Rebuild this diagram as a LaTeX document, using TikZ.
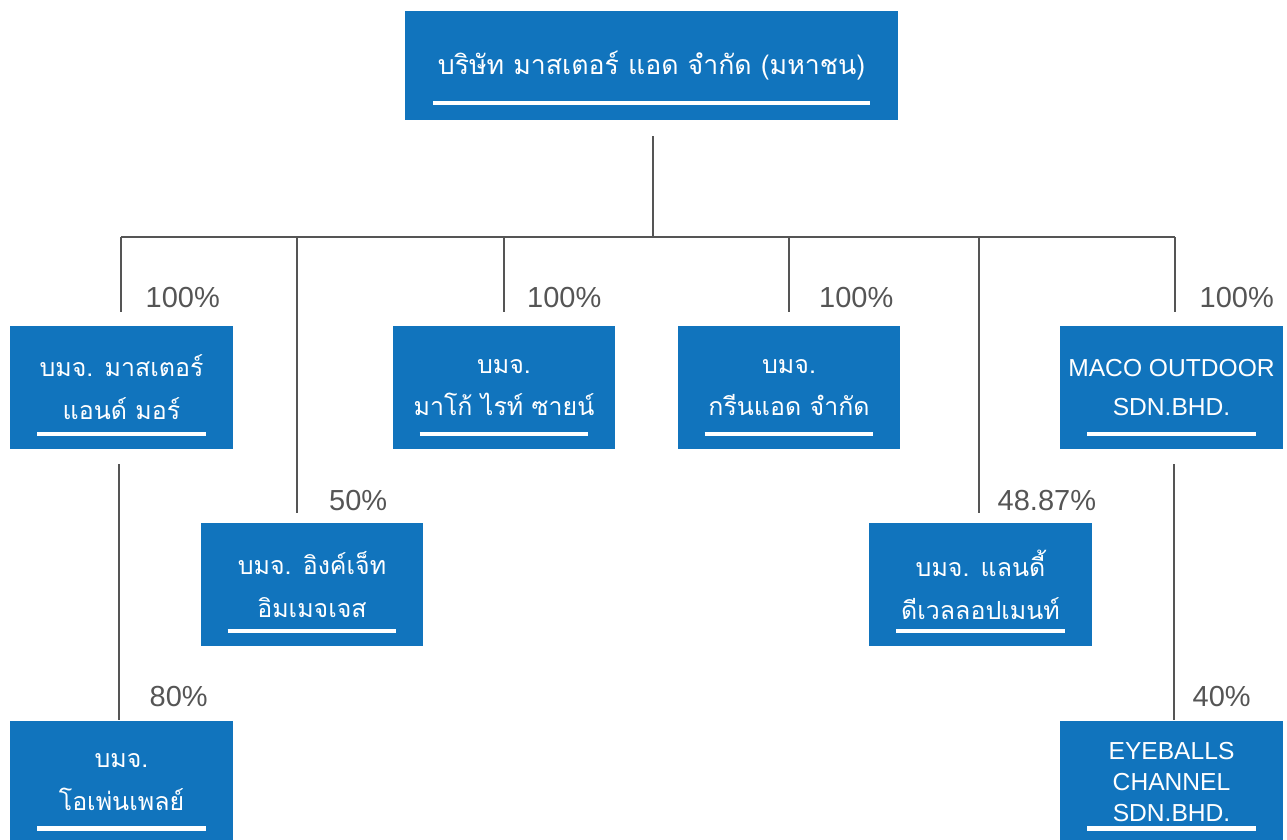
\documentclass[tikz,border=0pt]{standalone}
\usepackage{fontspec}
\setmainfont{Liberation Sans}
\newfontfamily\thaifont[Script=Thai]{Loma}
\usetikzlibrary{positioning,calc}
\definecolor{boxblue}{RGB}{17,116,189}
\definecolor{linegray}{RGB}{85,85,85}

\begin{document}
\begin{tikzpicture}
[ x=0.02cm, y=-0.02cm,
		company/.style={rectangle,fill=boxblue,text=white,align=center,inner sep=0pt,
			minimum width=4.46cm,minimum height=2.46cm,
			font=\thaifont\fontsize{14.2}{24.4}\selectfont,
			path picture={\draw[white,line width=2.8pt]
				([xshift=0.54cm,yshift=0.3cm]path picture bounding box.south west) --
				([xshift=-0.54cm,yshift=0.3cm]path picture bounding box.south east);}},
		foreign/.style={company,font=\fontsize{14}{22.7}\selectfont},
		parent/.style={company,minimum width=9.86cm,minimum height=2.18cm,
			font=\thaifont\fontsize{15.2}{20}\selectfont,
			path picture={\draw[white,line width=2.8pt]
				([xshift=0.56cm,yshift=0.34cm]path picture bounding box.south west) --
				([xshift=-0.56cm,yshift=0.34cm]path picture bounding box.south east);}},
		share/.style={anchor=west,text=linegray,font=\fontsize{16.5}{18}\selectfont},
		link/.style={draw=linegray,line width=1.6pt}]

	\useasboundingbox (0,0) rectangle (1287,839);

	\node[parent] (master) at (651.5,65.5) {บริษัท มาสเตอร์ แอด จำกัด (มหาชน)};
	\node[company] (masterandmore) at (121.5,387.5) {บมจ. มาสเตอร์\\แอนด์ มอร์};
	\node[company] (macolight) at (504,387.5) {บมจ.\\มาโก้ ไรท์ ซายน์};
	\node[company] (greenad) at (789,387.5) {บมจ.\\กรีนแอด จำกัด};
	\node[foreign] (macooutdoor) at (1171.5,387.5) {MACO OUTDOOR\\SDN.BHD.};
	\node[company] (inkjet) at (312,584.5) {บมจ. อิงค์เจ็ท\\อิมเมจเจส};
	\node[company] (landy) at (980.5,584.5) {บมจ. แลนดี้\\ดีเวลลอปเมนท์};
	\node[company] (openplay) at (121.5,782) {บมจ.\\โอเพ่นเพลย์};
	\node[foreign,font=\fontsize{14}{17.6}\selectfont] (eyeballs) at (1171.5,782) {EYEBALLS\\CHANNEL\\SDN.BHD.};

	% holding lines
	\coordinate (busL) at (121,237);
	\coordinate (busR) at (1175,237);
	\draw[link] ($(master.south)+(1.5,16)$) -- ($(master.south |- busL)+(1.5,0)$);
	\draw[link] (busL) -- (busR);
	\draw[link] (busL) -- ($(busL |- masterandmore.north)+(0,-14)$);
	\draw[link] ($(inkjet.north |- busL)+(-15,0)$) -- ($(inkjet.north)+(-15,-10)$);
	\draw[link] (macolight.north |- busL) -- ($(macolight.north)+(0,-14)$);
	\draw[link] (greenad.north |- busL) -- ($(greenad.north)+(0,-14)$);
	\draw[link] ($(landy.north |- busL)+(-1.5,0)$) -- ($(landy.north)+(-1.5,-10)$);
	\draw[link] (busR) -- ($(busR |- macooutdoor.north)+(0,-14)$);
	\draw[link] ($(masterandmore.south)+(-2.5,15)$) -- ($(openplay.north)+(-2.5,0)$);
	\draw[link] ($(macooutdoor.south)+(2.5,15)$) -- ($(eyeballs.north)+(2.5,0)$);

	% shares
	\node[share] (shareA) at ($(masterandmore.north)+(18,-28)$) {100\%};
	\node[share] (shareC) at ($(macolight.north)+(17,-28)$) {100\%};
	\node[share] (shareD) at ($(greenad.north)+(24,-28)$) {100\%};
	\node[share] (shareF) at ($(macooutdoor.north)+(22,-28)$) {100\%};
	\node[share] (shareB) at ($(inkjet.north)+(11,-22)$) {50\%};
	\node[share] (shareE) at ($(landy.north)+(11,-22)$) {48.87\%};
	\node[share] (shareG) at ($(openplay.north)+(22,-24)$) {80\%};
	\node[share] (shareH) at ($(eyeballs.north)+(15,-24)$) {40\%};
\end{tikzpicture}
\end{document}
